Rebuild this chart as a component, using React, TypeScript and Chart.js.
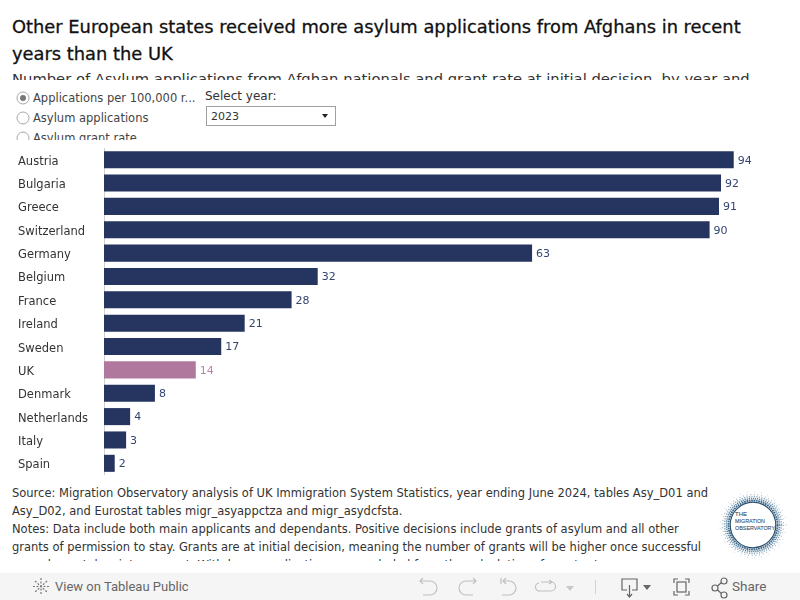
import React, { useEffect, useRef } from "react";
import { Chart, registerables } from "chart.js";

Chart.register(...registerables);

const countries = ["Austria", "Bulgaria", "Greece", "Switzerland", "Germany", "Belgium", "France", "Ireland", "Sweden", "UK", "Denmark", "Netherlands", "Italy", "Spain"];
const barValues = [94, 92.1, 91.8, 90.4, 63.9, 31.9, 28, 21, 17.5, 13.7, 7.6, 3.9, 3.3, 1.6];
const valueLabels = ["94", "92", "91", "90", "63", "32", "28", "21", "17", "14", "8", "4", "3", "2"];
const highlighted = "UK";

const title = "Other European states received more asylum applications from Afghans in recent years than the UK";
const subtitle = "Number of Asylum applications from Afghan nationals and grant rate at initial decision, by year and";
const radios = ["Applications per 100,000 r...", "Asylum applications", "Asylum grant rate"];
const notes = [
  "Source: Migration Observatory analysis of UK Immigration System Statistics, year ending June 2024, tables Asy_D01 and",
  "Asy_D02, and Eurostat tables migr_asyappctza and migr_asydcfsta.",
  "Notes: Data include both main applicants and dependants. Positive decisions include grants of asylum and all other",
  "grants of permission to stay. Grants are at initial decision, meaning the number of grants will be higher once successful",
  "appeals are taken into account. Withdrawn applications are excluded from the calculation of grant rates.",
];

const NAVY = "#25355f";
const PINK = "#b0789d";
const NAVY_TEXT = "#33456f";
const PINK_TEXT = "#bb86a8";
const FONT = "'DejaVu Sans', sans-serif";

const box = (left: number, top: number, width: number, height: number): React.CSSProperties => ({
  position: "absolute", left, top, width, height, overflow: "hidden",
});

const valueLabelPlugin = {
  id: "valueLabels",
  afterDatasetsDraw(chart: any) {
    const { ctx } = chart;
    const meta = chart.getDatasetMeta(0);
    ctx.save();
    ctx.font = `11px ${FONT}`;
    ctx.textBaseline = "middle";
    ctx.textAlign = "left";
    meta.data.forEach((bar: any, i: number) => {
      ctx.fillStyle = countries[i] === highlighted ? PINK_TEXT : NAVY_TEXT;
      ctx.fillText(valueLabels[i], bar.x + 4, bar.y + 1);
    });
    ctx.restore();
  },
};

function Radio({ on }: { on: boolean }) {
  return (
    <svg width="14" height="14" style={{ position: "absolute", left: 0, top: 0 }}>
      <circle cx="7" cy="7" r="6" fill="#fff" stroke="#a8a8a8" />
      {on && <circle cx="7" cy="7" r="3" fill="#777" />}
    </svg>
  );
}

function Logo() {
  return (
    <svg width="72" height="76" viewBox="0 0 72 76" style={{ position: "absolute", left: 717, top: 487 }}>
      <g fill="none" transform="translate(36 38)">
        <circle r="33" stroke="#aebfce" strokeWidth="0.8" strokeDasharray="0.8 6.3" />
        <circle r="30.500" stroke="#a5bbcc" strokeWidth="1.2" strokeDasharray="1 2.7" />
        <circle r="28.500" stroke="#8aa6bc" strokeWidth="1.5" strokeDasharray="1.2 1.3" />
        <circle r="26.500" stroke="#5f86a3" strokeWidth="1.6" strokeDasharray="1.3 0.8" />
        <circle r="24.500" stroke="#3f6a8b" strokeWidth="1.8" strokeDasharray="1.8 0.6" />
        <circle r="22.800" stroke="#2b4f70" strokeWidth="1.2" />
      </g>
      <g fontFamily="'Liberation Sans', sans-serif" fontSize="6" fontWeight="500" fill="#33506b" stroke="#33506b" strokeWidth="0.1">
        <text x="18" y="29">THE</text>
        <text x="18" y="36" textLength="30" lengthAdjust="spacingAndGlyphs">MIGRATION</text>
        <text x="18" y="43" textLength="40" lengthAdjust="spacingAndGlyphs">OBSERVATORY</text>
      </g>
    </svg>
  );
}

function FooterIcons() {
  const s = { fill: "none", stroke: "#c0c0c0", strokeWidth: 1.2 };
  const d = { fill: "none", stroke: "#666", strokeWidth: 1.2 };
  return (
    <svg width="800" height="27" style={{ position: "absolute", left: 0, top: 0 }}>
      <g stroke="#777" strokeWidth="1.2" fill="none">
        <path d="M41 5v17M33 13.500h17M35 8l12 11M47 8l-12 11" strokeDasharray="2 1.5" />
      </g>
      <path d="M423 5l-3 3 3 3M420 8h10a6.500 6.500 0 0 1 0 14h-7" {...s} />
      <path d="M473 5l3 3-3 3M476 8h-10a6.500 6.500 0 0 0 0 14h7" {...s} />
      <path d="M501 5v6M506 5l-3 3 3 3M503 8h6a6.500 6.500 0 0 1 0 14h-7" {...s} />
      <path d="M541 9h10a3.500 3.500 0 0 1 0 9h-11a3.500 3.500 0 0 1-1-8M549 7l3 2-3 2" {...s} />
      <path d="M566 13h8l-4 5z" fill="#c8c8c8" />
      <path d="M595.500 7v14" stroke="#d2d2d2" />
      <path d="M627 17h-5v-11h15v11h-5M629.500 12v11M627 21l2.500 3 2.500-3" {...d} />
      <path d="M643 12h8l-4 5z" fill="#666" />
      <path d="M674 10v-4h4M685 6h4v4M689 18v4h-4M678 22h-4v-4" {...d} />
      <rect x="677" y="9" width="9" height="10" {...d} />
      <circle cx="715" cy="15" r="3" {...d} />
      <circle cx="724" cy="8" r="3" {...d} />
      <circle cx="724" cy="22" r="3" {...d} />
      <path d="M717.500 13l4-3.500M717.500 17l4 3.500" {...d} />
    </svg>
  );
}

export default function App() {
  const ref = useRef<HTMLCanvasElement>(null);

  useEffect(() => {
    document.body.style.margin = "0";
    const chart = new Chart(ref.current!, {
      type: "bar",
      data: {
        labels: countries,
        datasets: [{
          data: barValues,
          backgroundColor: countries.map((c) => (c === highlighted ? PINK : NAVY)),
          barPercentage: 0.73,
          categoryPercentage: 1,
        }],
      },
      options: {
        indexAxis: "y",
        responsive: false,
        animation: false,
        layout: { padding: { left: 18, right: 10, top: 0, bottom: 0 } },
        plugins: { legend: { display: false }, tooltip: { enabled: false } },
        scales: {
          x: { display: false, min: 0, max: 102.4, grid: { display: false } },
          y: {
            afterFit: (scale: any) => { scale.width = 86; scale.paddingTop = 0; scale.paddingBottom = 0; },
            grid: { display: false, drawTicks: false },
            border: { display: true, color: "#d0d0d0", dash: [1, 2] },
            ticks: {
              crossAlign: "far", padding: 0, autoSkip: false, labelOffset: 2,
              color: "#333", font: { family: FONT, size: 11.500 },
            },
          },
        },
      },
      plugins: [valueLabelPlugin],
    } as any);
    return () => chart.destroy();
  }, []);

  return (
    <div style={{ position: "relative", width: 800, height: 600, background: "#fff", overflow: "hidden", fontFamily: FONT, color: "#333" }}>
      <div style={{ ...box(12, 13, 760, 54), fontSize: 17.850, lineHeight: "27px", fontWeight: 500, color: "#111", WebkitTextStroke: "0.3px #111" }}>{title}</div>
      <div style={{ ...box(12, 68, 780, 12), fontSize: 14.760, lineHeight: "22px", whiteSpace: "nowrap" }}>{subtitle}</div>

      <div style={box(16, 89, 180, 51)}>
        {radios.map((r, i) => (
          <div key={r} style={{ position: "absolute", left: 0, top: 2 + i * 20, width: 180, height: 18, fontSize: 11.500, lineHeight: "14px", whiteSpace: "nowrap", color: "#444" }}>
            <Radio on={i === 0} />
            <span style={{ position: "absolute", left: 17, top: 0 }}>{r}</span>
          </div>
        ))}
      </div>
      <div style={{ ...box(205, 88, 120, 18), fontSize: 12, lineHeight: "16px", whiteSpace: "nowrap" }}>Select year:</div>
      <div style={{ position: "absolute", left: 206, top: 106, width: 128, height: 18, border: "1px solid #a0a0a0", fontSize: 11, lineHeight: "20px", textIndent: 4 }}>
        2023
        <div style={{ position: "absolute", right: 7, top: 7, width: 0, height: 0, borderLeft: "3.5px solid transparent", borderRight: "3.5px solid transparent", borderTop: "4px solid #222" }} />
      </div>

      <div style={{ position: "absolute", left: 0, top: 148, width: 800, height: 327 }}>
        <canvas ref={ref} width={800} height={327} style={{ display: "block" }} />
      </div>

      <div style={{ ...box(12, 484, 705, 77), fontSize: 11.500, lineHeight: "18px", color: "#333" }}>
        {notes.map((n) => <div key={n} style={{ whiteSpace: "nowrap" }}>{n}</div>)}
      </div>
      <Logo />

      <div style={{ position: "absolute", left: 0, top: 573, width: 800, height: 27, background: "#f5f5f5" }}>
        <FooterIcons />
        <div style={{ position: "absolute", left: 55, top: 6, fontFamily: "Roboto, sans-serif", fontSize: 13, color: "#666", whiteSpace: "nowrap" }}>View on Tableau Public</div>
        <div style={{ position: "absolute", left: 732, top: 5, fontFamily: "Roboto, sans-serif", fontSize: 13.500, color: "#666" }}>Share</div>
      </div>
    </div>
  );
}
